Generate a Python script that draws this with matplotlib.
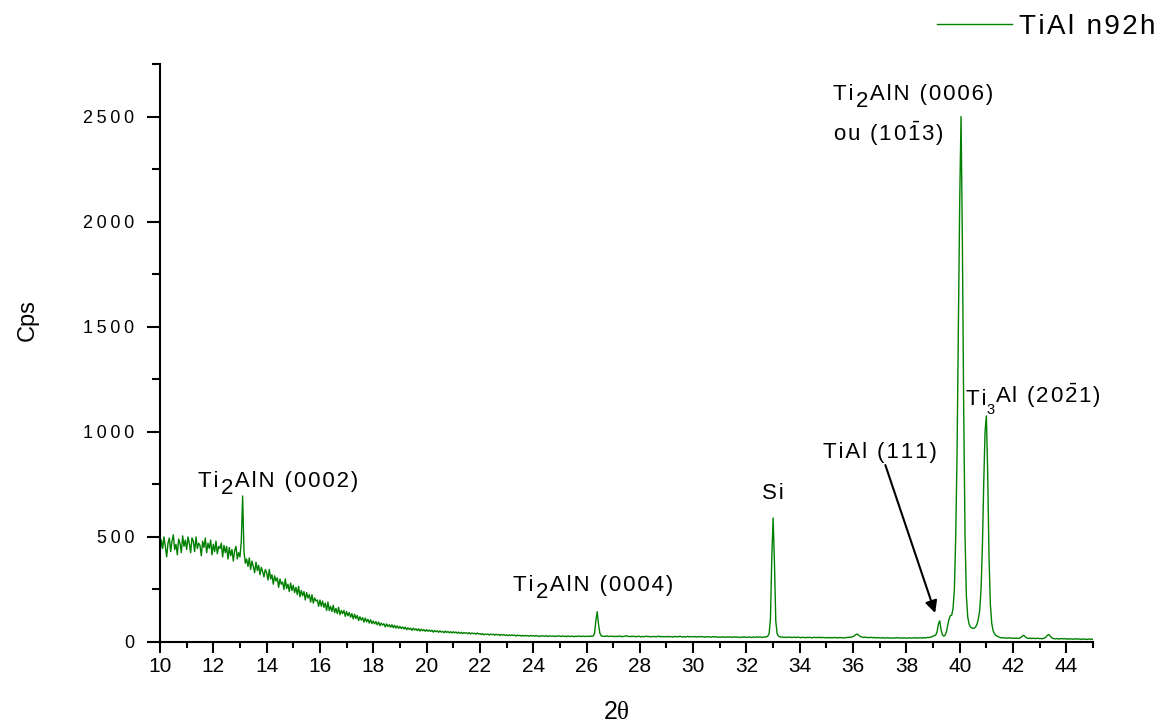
import matplotlib
matplotlib.use('Agg')
import matplotlib.pyplot as plt
import numpy as np
from matplotlib.ticker import MultipleLocator, FuncFormatter

plt.rcParams['font.family'] = ['Liberation Sans', 'DejaVu Sans']
plt.rcParams['mathtext.fontset'] = 'custom'
plt.rcParams['mathtext.rm'] = 'Liberation Sans'
plt.rcParams['mathtext.it'] = 'Liberation Sans:italic'
plt.rcParams['mathtext.bf'] = 'Liberation Sans:bold'
plt.rcParams['mathtext.sf'] = 'Liberation Serif'

# ---------------- data ----------------
two_theta_start = 10.0
two_theta_step = 0.05
# counts per second, one row per degree (x.00 ... x.95)
cps_10 = [420, 485, 445, 500, 455, 405, 470, 495, 430, 480, 510, 440, 465, 415, 490, 470, 425, 505, 455, 485]
cps_11 = [440, 500, 470, 425, 495, 480, 430, 500, 445, 470, 460, 410, 480, 450, 495, 425, 470, 445, 485, 415]
cps_12 = [465, 430, 480, 420, 455, 445, 470, 405, 460, 425, 455, 395, 450, 410, 440, 385, 435, 455, 395, 425]
cps_13 = [405, 480, 695, 430, 375, 395, 360, 400, 345, 385, 360, 330, 380, 340, 365, 320, 355, 335, 310, 345]
cps_14 = [330, 295, 345, 300, 320, 275, 315, 290, 305, 260, 300, 275, 285, 250, 300, 255, 275, 240, 280, 245]
cps_15 = [270, 235, 260, 225, 265, 215, 245, 220, 240, 200, 235, 210, 225, 190, 225, 185, 210, 195, 200, 170]
cps_16 = [200, 170, 195, 165, 185, 150, 190, 150, 170, 145, 175, 140, 160, 135, 165, 130, 150, 135, 150, 122]
cps_17 = [145, 125, 140, 118, 135, 110, 132, 112, 126, 102, 120, 104, 116, 95, 114, 96, 108, 90, 106, 88]
cps_18 = [100, 86, 97, 82, 95, 78, 90, 80, 87, 72, 86, 74, 82, 70, 82, 68, 79, 66, 77, 65]
cps_19 = [74, 64, 72, 62, 71, 58, 68, 60, 66, 55, 66, 57, 63, 54, 63, 52, 61, 53, 59, 51]
cps_20 = [59, 51, 57, 50, 56, 47, 55, 49, 53, 46, 53, 47, 51, 44, 52, 45, 50, 44, 49, 43]
cps_21 = [49, 43, 48, 42, 47, 41, 46, 40, 45, 42, 44, 39, 45, 38, 43, 40, 42, 37, 43, 38]
cps_22 = [40, 36, 40, 34, 38, 36, 38, 33, 38, 35, 37, 32, 37, 34, 36, 31, 36, 33, 35, 31]
cps_23 = [34, 30, 34, 30, 34, 31, 33, 28, 33, 30, 32, 28, 32, 28, 31, 29, 31, 27, 31, 29]
cps_24 = [30, 27, 31, 28, 29, 26, 30, 28, 29, 27, 30, 26, 29, 28, 27, 29, 26, 28, 27, 29]
cps_25 = [28, 26, 29, 27, 28, 25, 29, 27, 26, 28, 27, 25, 28, 26, 29, 27, 26, 28, 27, 26]
cps_26 = [27, 28, 26, 29, 27, 28, 40, 100, 144, 85, 42, 30, 27, 28, 26, 29, 27, 26, 28, 27]
cps_27 = [27, 25, 28, 26, 27, 29, 25, 27, 26, 28, 30, 26, 27, 25, 28, 26, 27, 25, 26, 28]
cps_28 = [26, 24, 27, 25, 26, 28, 25, 27, 24, 26, 25, 27, 24, 26, 28, 25, 27, 24, 26, 25]
cps_29 = [25, 27, 24, 26, 25, 23, 27, 25, 26, 24, 28, 25, 24, 26, 23, 25, 27, 24, 26, 25]
cps_30 = [24, 26, 25, 23, 27, 24, 26, 25, 24, 23, 26, 24, 25, 23, 24, 26, 23, 25, 24, 22]
cps_31 = [24, 22, 25, 23, 24, 22, 25, 23, 24, 22, 23, 25, 22, 24, 23, 21, 24, 22, 25, 23]
cps_32 = [23, 22, 24, 23, 21, 24, 22, 23, 25, 22, 24, 23, 22, 24, 23, 25, 28, 40, 110, 400]
cps_33 = [590, 380, 100, 40, 28, 25, 23, 24, 22, 23, 21, 24, 22, 23, 21, 22, 24, 21, 23, 22]
cps_34 = [22, 20, 23, 21, 22, 20, 23, 21, 22, 20, 21, 23, 20, 22, 21, 23, 20, 22, 21, 20]
cps_35 = [21, 20, 22, 19, 21, 20, 22, 20, 21, 19, 22, 20, 21, 19, 20, 22, 21, 23, 22, 24]
cps_36 = [26, 30, 35, 38, 33, 28, 25, 23, 22, 24, 21, 22, 20, 23, 21, 20, 22, 19, 21, 20]
cps_37 = [20, 19, 21, 18, 20, 19, 21, 18, 20, 19, 18, 20, 19, 21, 18, 20, 19, 18, 20, 19]
cps_38 = [19, 18, 20, 19, 18, 20, 19, 21, 18, 20, 19, 20, 18, 21, 19, 20, 22, 21, 23, 25]
cps_39 = [28, 30, 34, 48, 85, 101, 58, 35, 28, 32, 48, 80, 110, 125, 128, 160, 250, 500, 900, 1500]
cps_40 = [2100, 2500, 1900, 1100, 500, 220, 120, 85, 72, 67, 65, 66, 72, 85, 110, 150, 250, 450, 750, 1000]
cps_41 = [1076, 800, 400, 180, 90, 55, 40, 32, 28, 25, 22, 20, 21, 19, 20, 18, 19, 20, 18, 19]
cps_42 = [18, 17, 19, 18, 17, 19, 22, 28, 32, 26, 20, 18, 17, 19, 16, 18, 17, 16, 18, 17]
cps_43 = [16, 17, 15, 18, 20, 26, 33, 35, 27, 20, 17, 16, 15, 17, 14, 16, 15, 17, 14, 16]
cps_44 = [15, 13, 16, 14, 15, 13, 14, 16, 13, 15, 14, 12, 15, 13, 14, 12, 13, 15, 12, 14]
cps_45 = [12]

rows = [cps_10, cps_11, cps_12, cps_13, cps_14, cps_15, cps_16, cps_17, cps_18,
        cps_19, cps_20, cps_21, cps_22, cps_23, cps_24, cps_25, cps_26, cps_27,
        cps_28, cps_29, cps_30, cps_31, cps_32, cps_33, cps_34, cps_35, cps_36,
        cps_37, cps_38, cps_39, cps_40, cps_41, cps_42, cps_43, cps_44]
for r in rows:
    assert len(r) == 20, r
cps = np.array(sum(rows, []) + cps_45, dtype=float)
two_theta = two_theta_start + two_theta_step * np.arange(len(cps))

series_label = 'TiAl n92h'
x_label_main = '2'
y_label = 'Cps'

# ---------------- figure ----------------
W, H = 1166, 726
fig = plt.figure(figsize=(W / 100, H / 100), dpi=100)
ax = fig.add_axes([160 / W, 1 - 642 / H, (1093 - 160) / W, (642 - 64) / H])

green = '#008000'
ax.plot(two_theta, cps, color=green, lw=1.0, label=series_label)

ax.set_xlim(10, 45)
ax.set_ylim(0, 2750)
ax.xaxis.set_major_locator(MultipleLocator(2))
ax.xaxis.set_minor_locator(MultipleLocator(1))
ax.yaxis.set_major_locator(MultipleLocator(500))
ax.yaxis.set_minor_locator(MultipleLocator(250))

THIN = '\u2009'
HAIR = '\u200a'
ax.yaxis.set_major_formatter(FuncFormatter(lambda v, p: THIN.join(str(int(round(v))))))

for s in ['top', 'right']:
    ax.spines[s].set_visible(False)
for s in ['left', 'bottom']:
    ax.spines[s].set_linewidth(1.5)

ax.tick_params(axis='x', which='major', direction='out', length=8, width=1.5, labelsize=15, pad=3)
ax.tick_params(axis='x', which='minor', direction='out', length=4.5, width=1.5)
ax.tick_params(axis='y', which='major', direction='out', length=9.5, width=1.5, labelsize=13, pad=9)
ax.tick_params(axis='y', which='minor', direction='out', length=5.5, width=1.5)

ax.set_ylabel(y_label, fontsize=17)
ax.yaxis.set_label_coords(-0.1415, 0.557)
ax.yaxis.label.set_va('center')
ax.set_xlabel(x_label_main + r'$\mathsf{\theta}$', fontsize=18)
ax.xaxis.set_label_coords(0.489, -0.121)
ax.xaxis.label.set_va('center')

# legend at the top right, outside the axes
leg = ax.legend(loc='center right', bbox_to_anchor=(1155 / W, 1 - 27 / H),
                bbox_transform=fig.transFigure, frameon=False, fontsize=20,
                handlelength=2.7, handletextpad=0.25, borderpad=0, borderaxespad=0)
for t in leg.get_texts():
    t.set_text(HAIR.join(series_label))


def sp(s):
    return HAIR.join(s)


def rich_label(x, y, pieces):
    """pieces: (text, fontsize, vertical offset in points)"""
    first = ax.text(x, y, pieces[0][0], fontsize=pieces[0][1], va='baseline', ha='left')
    prev = first
    for text, size, dy in pieces[1:]:
        t = ax.annotate(text, xy=(1, 0), xycoords=(prev, first), xytext=(0, dy),
                        textcoords='offset points', fontsize=size, va='bottom', ha='left')
        prev = t
    return first


FS = 16
rich_label(11.43, 738, [(sp('Ti') + HAIR, FS, 0), ('2', FS, -5), (HAIR + sp('AlN (0002)'), FS, 0)])
rich_label(23.25, 243, [(sp('Ti') + HAIR, FS, 0), ('2', FS, -5), (HAIR + sp('AlN (0004)'), FS, 0)])
ax.text(32.59, 681, sp('Si'), fontsize=FS, va='baseline', ha='left')
rich_label(35.25, 2580, [(sp('Ti') + HAIR, FS, 0), ('2', FS, -5), (HAIR + sp('AlN (0006)'), FS, 0)])
ax.text(35.25, 2385, sp('ou (10') + HAIR + r'$\bar{1}$' + HAIR + sp('3)'), fontsize=FS,
        va='baseline', ha='left')
rich_label(40.24, 1128, [(sp('Ti'), FS, 0), ('3', 10.5, -5),
                         (sp('Al (20') + HAIR + r'$\bar{2}$' + HAIR + sp('1)'), FS, 0)])
ax.text(34.88, 876, sp('TiAl (111)'), fontsize=FS, va='baseline', ha='left')
ax.annotate('', xy=(39.08, 138), xytext=(37.21, 842),
            arrowprops=dict(arrowstyle='-|>', color='black', lw=1.5, mutation_scale=18,
                            shrinkA=0, shrinkB=0))

fig.savefig('out.png', dpi=100, facecolor='white')
